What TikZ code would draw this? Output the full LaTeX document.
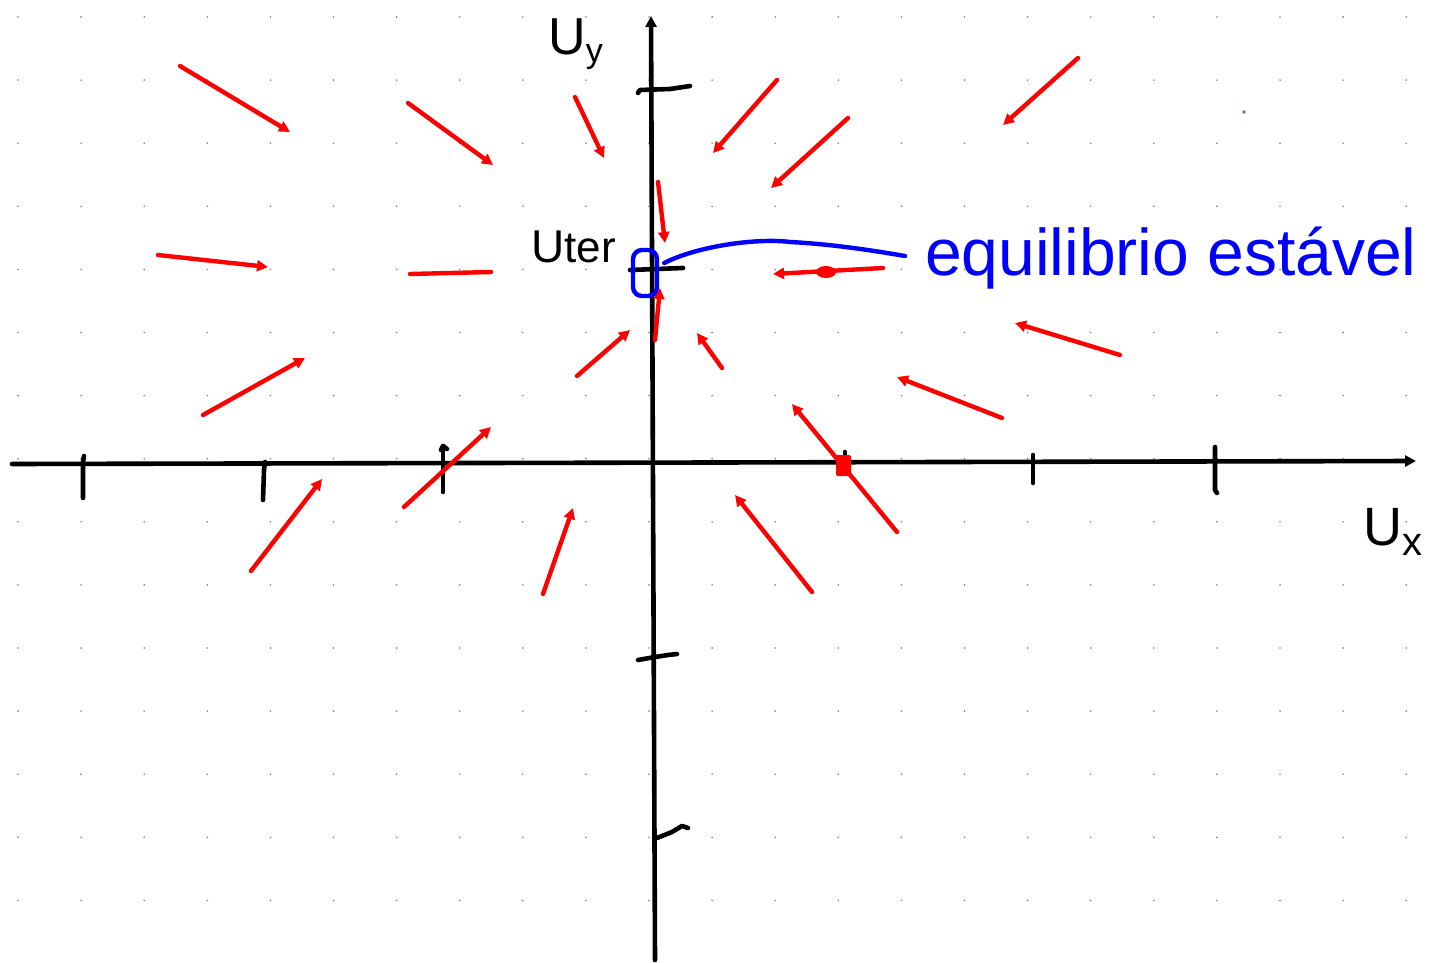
\documentclass[tikz,border=0pt]{standalone}
\usepackage{fontspec}
\setmainfont{Liberation Sans}
\usetikzlibrary{arrows.meta}
\begin{document}
\begin{tikzpicture}[x=1pt,y=-1pt,
  vec/.style={red, line width=4.4pt, line cap=round, -{Triangle[length=11pt,width=11pt]}},
  axis/.style={black, line width=4.6pt, line cap=round, -{Triangle[length=11pt,width=11pt]}},
  tickmark/.style={black, line width=4.6pt, line cap=round, line join=round},
  blueink/.style={blue, line width=4.4pt, line cap=round, line join=round},
  lbl/.style={inner sep=0pt, anchor=base west}]
\useasboundingbox (0,0) rectangle (1436,963);
\fill[white] (0,0) rectangle (1436,963);
% dot grid
\foreach \i in {0,...,22} \foreach \j in {0,...,14}
  \fill[gray] (18+63.1*\i, 17+63.1*\j) circle (0.9pt);
% axes
\draw[axis] (12,464) -- (1416,461);
\draw[axis] (655,960) -- (651,16);
% x ticks
\draw[tickmark] (84,456) -- (83,462) -- (83,498);
\draw[tickmark] (265,462) -- (264,470) -- (263,500);
\draw[tickmark] (441,450) -- (443,446) -- (447,449);
\draw[tickmark] (443,446) -- (443,492);
\draw[tickmark] (845,452) -- (845,470);
\draw[tickmark] (1033,455) -- (1033,483);
\draw[tickmark] (1215,447) -- (1215,490) -- (1217,493);
% y ticks
\draw[tickmark] (638,93) -- (640,90) -- (670,89) -- (690,86);
\draw[tickmark] (630,270) -- (683,268);
\draw[tickmark] (638,660) -- (655,657) -- (668,655) -- (677,654);
\draw[tickmark] (657,838) -- (672,832) -- (682,826) -- (688,828);
% red vector field
\foreach \a/\b/\c/\d in {
  180/66/290/132, 408/103/493/165, 575/97/604/158, 777/80/713/153,
  848/118/771/188, 1078/58/1003/125, 658/182/665/243, 158/255/268/267,
  883/268/773/274, 655/340/660/288, 577/376/630/330, 722/368/697/333,
  1120/355/1015/323, 1002/418/897/377, 203/415/305/358, 404/507/491/427,
  897/532/792/404, 251/571/322/479, 543/594/573/508, 812/592/735/495}
  \draw[vec] (\a,\b) -- (\c,\d);
\draw[red, line width=4.4pt, line cap=round] (410,274) -- (491,272);
\fill[red] (826,272) ellipse (10pt and 6pt);
\fill[red, rounded corners=2pt] (836,455) rectangle (851,476);
% labels
\node[lbl] (uy) at (548,55) {\fontsize{52}{52}\selectfont U\raisebox{-8pt}{\fontsize{34}{34}\selectfont y}};
\node[lbl] (uter) at (531,262) {\fontsize{46}{46}\selectfont U\fontsize{44}{44}\selectfont ter};
\node[lbl] (ux) at (1363,545) {\fontsize{54}{54}\selectfont U\raisebox{-10pt}{\fontsize{40}{40}\selectfont x}};
% equilibrium marker and annotation
\node[draw=blue, line width=4.4pt, rounded corners=9pt, minimum width=24pt, minimum height=46pt, inner sep=0pt] (eq) at (645,273) {};
\node[lbl, blue] (txt) at (925,275) {\fontsize{66}{66}\selectfont equilibrio estável};
\coordinate (tail) at (905,256);
\draw[blueink] ([shift={(5pt,10pt)}]eq.east) .. controls (700,245) and (760,238) .. (790,242) .. controls (830,244) and (870,250) .. (tail);
\fill[violet!70] (1244,112) circle (1.8pt);
\end{tikzpicture}
\end{document}
